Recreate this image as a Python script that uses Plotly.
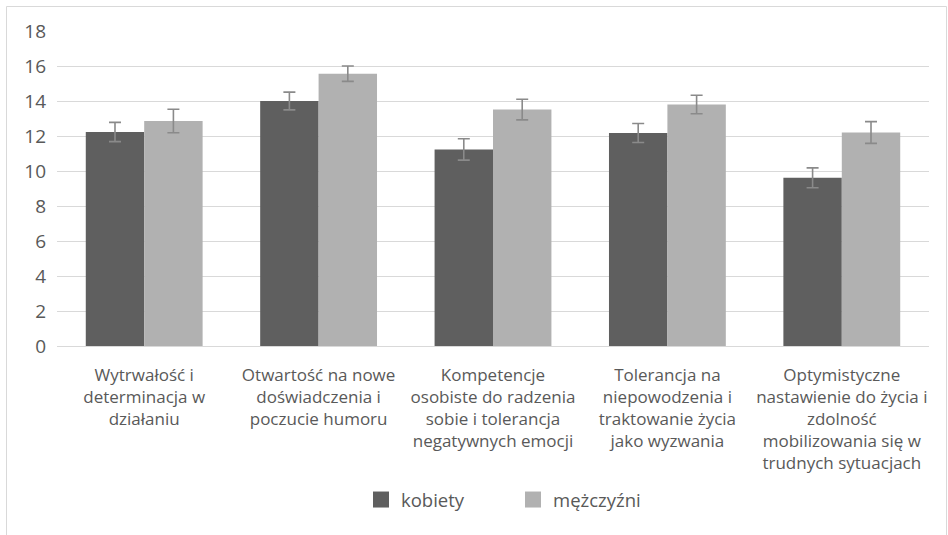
import plotly.graph_objects as go

categories = [
    "Wytrwałość i<br>determinacja w<br>działaniu",
    "Otwartość na nowe<br>doświadczenia i<br>poczucie humoru",
    "Kompetencje<br>osobiste do radzenia<br>sobie i tolerancja<br>negatywnych emocji",
    "Tolerancja na<br>niepowodzenia i<br>traktowanie życia<br>jako wyzwania",
    "Optymistyczne<br>nastawienie do życia i<br>zdolność<br>mobilizowania się w<br>trudnych sytuacjach",
]
kobiety = [12.23, 14.00, 11.23, 12.17, 9.61]
kobiety_err = [0.55, 0.51, 0.61, 0.54, 0.57]
mezczyzni = [12.86, 15.56, 13.51, 13.80, 12.20]
mezczyzni_err = [0.67, 0.44, 0.59, 0.53, 0.62]
series_names = ["kobiety", "mężczyźni"]
series_colors = ["#5f5f5f", "#b1b1b1"]
y_ticks = [0, 2, 4, 6, 8, 10, 12, 14, 16, 18]

FONT = "Open Sans, Liberation Sans, sans-serif"
TXT = "#595959"
ERR = "#8a8a8a"

W, H = 948, 535
L, R, T, B = 57, 19, 31, 189
pw = W - L - R
ph = H - T - B


def px_x(page_x):
    return (page_x - L) / pw


def px_y(page_y):
    return (H - B - page_y) / ph


fig = go.Figure()
for name, vals, errs, col in [
    (series_names[0], kobiety, kobiety_err, series_colors[0]),
    (series_names[1], mezczyzni, mezczyzni_err, series_colors[1]),
]:
    fig.add_trace(go.Bar(
        name=name, x=categories, y=vals, showlegend=False,
        marker=dict(color=col, line=dict(width=0)),
        error_y=dict(type="data", array=errs, color=ERR, thickness=1.6, width=6),
    ))
# legend entries with larger square swatches
for name, col in zip(series_names, series_colors):
    fig.add_trace(go.Scatter(
        name=name, x=[None], y=[None], mode="markers",
        marker=dict(symbol="square", size=16, color=col),
        showlegend=True,
    ))

fig.add_shape(type="rect", xref="paper", yref="paper",
              x0=px_x(6.5), x1=px_x(946.5), y0=px_y(560), y1=px_y(6.5),
              line=dict(color="#d9d9d9", width=1), fillcolor="rgba(0,0,0,0)", layer="below")

fig.update_layout(
    width=W, height=H,
    margin=dict(l=L, r=R, t=T, b=B, autoexpand=False),
    paper_bgcolor="white", plot_bgcolor="white",
    barmode="group", bargap=0.33, bargroupgap=0,
    font=dict(family=FONT, color=TXT, size=17),
    showlegend=True,
    legend=dict(orientation="h", x=px_x(513), xanchor="center", y=px_y(500), yanchor="middle",
                font=dict(size=18.5, color=TXT, family=FONT),
                itemwidth=30, traceorder="normal", itemsizing="trace",
                entrywidth=107, entrywidthmode="pixels"),
    xaxis=dict(showgrid=False, showline=False, ticks="", tickfont=dict(size=17),
               tickangle=0, ticklabelstandoff=17),
    yaxis=dict(range=[0, 18], tickvals=y_ticks, showgrid=True, gridcolor="#d9d9d9",
               gridwidth=1, zeroline=True, zerolinecolor="#d9d9d9", zerolinewidth=1,
               showline=False, ticks="", tickfont=dict(size=19), ticklabelstandoff=10),
)

fig.write_html("out.html", config={"displayModeBar": False},
               post_script="document.body.style.margin='0';")
